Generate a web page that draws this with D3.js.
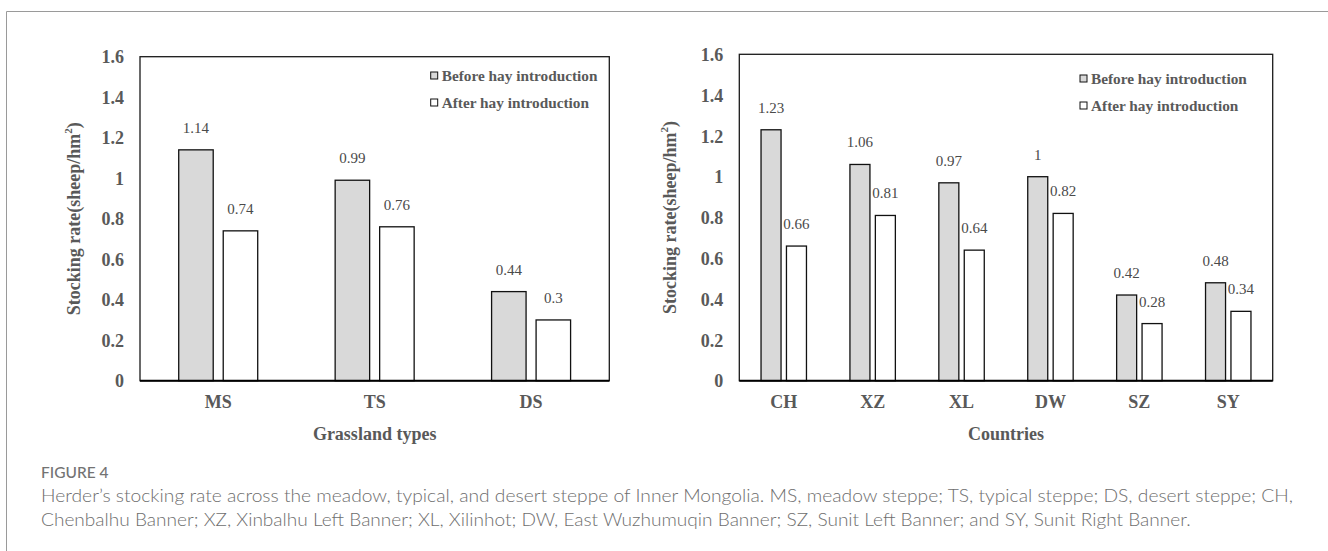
<!DOCTYPE html>
<html>
<head>
<meta charset="utf-8">
<script src="https://cdn.jsdelivr.net/npm/d3@7"></script>
<style>
  html, body { margin: 0; padding: 0; background: #fff; }
  svg { display: block; }
</style>
</head>
<body>
<svg id="fig" width="1328" height="551"></svg>
<script>
// ---------- data ----------
const grassTypes = ["MS", "TS", "DS"];
const grassBefore = [1.14, 0.99, 0.44];
const grassAfter = [0.74, 0.76, 0.3];

const banners = ["CH", "XZ", "XL", "DW", "SZ", "SY"];
const bannerBefore = [1.23, 1.06, 0.97, 1, 0.42, 0.48];
const bannerAfter = [0.66, 0.81, 0.64, 0.82, 0.28, 0.34];

const seriesNames = ["Before hay introduction", "After hay introduction"];
const yTicks = [0, 0.2, 0.4, 0.6, 0.8, 1, 1.2, 1.4, 1.6];
const yTitle = "Stocking rate(sheep/hm";
const captionLabel = "FIGURE 4";
const captionLines = [
  "Herder\u2019s stocking rate across the meadow, typical, and desert steppe of Inner Mongolia. MS, meadow steppe; TS, typical steppe; DS, desert steppe; CH,",
  "Chenbalhu Banner; XZ, Xinbalhu Left Banner; XL, Xilinhot; DW, East Wuzhumuqin Banner; SZ, Sunit Left Banner; and SY, Sunit Right Banner."
];

// ---------- drawing ----------
const svg = d3.select("#fig");
const SERIF = "'Liberation Serif', 'Times New Roman', serif";
const TXT = "#595959";
const fills = ["#d9d9d9", "#ffffff"];

// outer frame (top + left only)
svg.append("line").attr("x1", 6.5).attr("x2", 1328).attr("y1", 11.5).attr("y2", 11.5)
  .attr("stroke", "#9a9a9a").attr("stroke-width", 1);
svg.append("line").attr("x1", 6.5).attr("x2", 6.5).attr("y1", 11.5).attr("y2", 551)
  .attr("stroke", "#9a9a9a").attr("stroke-width", 1);

function drawChart(cfg) {
  const g = svg.append("g");
  const { left, right, top, bottom } = cfg;

  const y = d3.scaleLinear().domain([0, 1.6]).range([bottom, top]);
  const x0 = d3.scaleBand().domain(cfg.cats).range([left, right])
    .paddingInner(cfg.pad).paddingOuter(cfg.pad / 2);
  const x1 = d3.scaleBand().domain([0, 1]).range([0, x0.bandwidth()])
    .paddingInner(cfg.innerPad).paddingOuter(0);

  // plot frame
  g.append("rect").attr("x", left).attr("y", top)
    .attr("width", right - left).attr("height", bottom - top)
    .attr("fill", "none").attr("stroke", "#1a1a1a").attr("stroke-width", 1.3);

  // bars
  const rows = cfg.cats.map((c, i) => ({ cat: c, vals: [cfg.before[i], cfg.after[i]] }));
  const grp = g.selectAll("g.cat").data(rows).join("g")
    .attr("transform", d => `translate(${x0(d.cat)},0)`);
  grp.selectAll("rect").data(d => d.vals.map((v, k) => ({ v, k }))).join("rect")
    .attr("x", d => x1(d.k)).attr("width", x1.bandwidth())
    .attr("y", d => y(d.v)).attr("height", d => y(0) - y(d.v))
    .attr("fill", d => fills[d.k]).attr("stroke", "#111").attr("stroke-width", 1.3);
  grp.selectAll("text").data(d => d.vals.map((v, k) => ({ v, k }))).join("text")
    .attr("x", d => x1(d.k) + x1.bandwidth() / 2)
    .attr("y", d => y(d.v) - 17)
    .attr("text-anchor", "middle")
    .attr("font-family", SERIF).attr("font-size", 15).attr("fill", "#4a4a4a")
    .text(d => String(d.v));

  // baseline axis (thicker)
  g.append("line").attr("x1", left).attr("x2", right).attr("y1", bottom).attr("y2", bottom)
    .attr("stroke", "#000").attr("stroke-width", 2);

  // y axis labels
  const yAxis = d3.axisLeft(y).tickValues(yTicks).tickSize(0).tickPadding(16)
    .tickFormat(d => String(d));
  const ya = g.append("g").attr("transform", `translate(${left},0)`).call(yAxis);
  ya.select(".domain").remove();
  ya.selectAll("text").attr("font-family", SERIF).attr("font-size", 18)
    .attr("font-weight", "bold").attr("fill", TXT).attr("dy", "0.34em");

  // x axis labels
  const xAxis = d3.axisBottom(x0).tickSize(0).tickPadding(0);
  const xa = g.append("g").attr("transform", `translate(0,${bottom})`).call(xAxis);
  xa.select(".domain").remove();
  xa.selectAll("text").attr("font-family", SERIF).attr("font-size", 18)
    .attr("font-weight", "bold").attr("fill", TXT).attr("dy", null).attr("y", 27.7);

  // y title
  const yt = g.append("text")
    .attr("transform", `translate(${cfg.yTitleX},${(top + bottom) / 2}) rotate(-90)`)
    .attr("text-anchor", "middle").attr("dominant-baseline", "central")
    .attr("font-family", SERIF).attr("font-size", 18).attr("font-weight", "bold").attr("fill", TXT);
  yt.append("tspan").text(yTitle);
  yt.append("tspan").attr("font-size", 11).attr("dy", "-0.55em").text("2");
  yt.append("tspan").attr("dy", "0.35em").text(")");

  // x title
  g.append("text").attr("x", (left + right) / 2).attr("y", 439.5)
    .attr("text-anchor", "middle")
    .attr("font-family", SERIF).attr("font-size", 18).attr("font-weight", "bold").attr("fill", TXT)
    .text(cfg.xTitle);

  // legend
  seriesNames.forEach((name, k) => {
    const ly = cfg.legendY + k * 27;
    g.append("rect").attr("x", cfg.legendX).attr("y", ly - 9).attr("width", 7).attr("height", 7)
      .attr("fill", fills[k]).attr("stroke", "#111").attr("stroke-width", 1);
    g.append("text").attr("x", cfg.legendX + 11).attr("y", ly)
      .attr("font-family", SERIF).attr("font-size", 15.3).attr("font-weight", "bold").attr("fill", TXT)
      .text(name);
  });
}

drawChart({
  cats: grassTypes, before: grassBefore, after: grassAfter,
  left: 140, right: 609.3, top: 56.7, bottom: 380.7,
  pad: 0.495, innerPad: 0.225,
  yTitleX: 74, xTitle: "Grassland types",
  legendX: 430.7, legendY: 81
});

drawChart({
  cats: banners, before: bannerBefore, after: bannerAfter,
  left: 739.3, right: 1272.7, top: 54.3, bottom: 380.7,
  pad: 0.489, innerPad: 0.213,
  yTitleX: 670, xTitle: "Countries",
  legendX: 1080, legendY: 84
});

// caption
const SANS = "Lato, 'Open Sans', 'Noto Sans', sans-serif";
svg.append("text").attr("x", 41).attr("y", 478.3)
  .attr("font-family", SANS).attr("font-size", 15.5).attr("font-weight", 500).attr("fill", "#737373")
  .text(captionLabel);
const capEnds = [1293, 1190.7];
captionLines.forEach((line, i) => {
  svg.append("text").attr("x", 41).attr("y", 501.7 + i * 24)
    .attr("font-family", SANS).attr("font-size", 18).attr("font-weight", 300).attr("fill", "#6e6e6e")
    .attr("textLength", capEnds[i] - 41).attr("lengthAdjust", "spacingAndGlyphs")
    .text(line);
});
</script>
</body>
</html>
